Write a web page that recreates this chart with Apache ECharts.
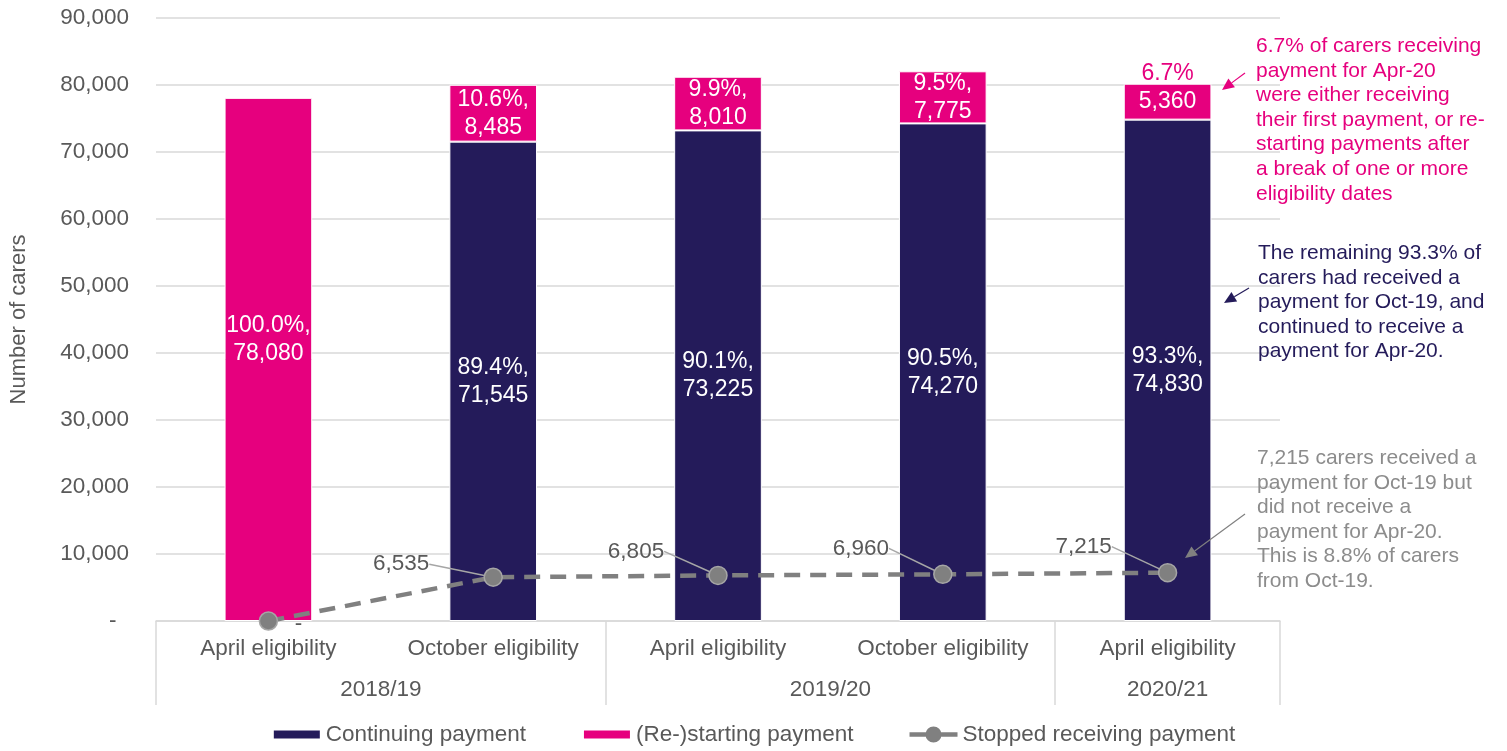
<!DOCTYPE html>
<html>
<head>
<meta charset="utf-8">
<script src="https://cdn.jsdelivr.net/npm/echarts@6/dist/echarts.min.js"></script>
<style>html,body{margin:0;padding:0;background:#fff}#c{width:1507px;height:751px}</style>
</head>
<body>
<div id="c"></div>
<script>
const categories = ['April eligibility', 'October eligibility', 'April eligibility', 'October eligibility', 'April eligibility'];
const years = ['2018/19', '2019/20', '2020/21'];
const yearSpans = [2, 2, 1];
const continuing = [null, 71545, 73225, 74270, 74830];
const continuingPct = ['', '89.4%', '90.1%', '90.5%', '93.3%'];
const restarting = [78080, 8485, 8010, 7775, 5360];
const restartingPct = ['100.0%', '10.6%', '9.9%', '9.5%', '6.7%'];
const stopped = [0, 6535, 6805, 6960, 7215];
const yTicks = ['-', '10,000', '20,000', '30,000', '40,000', '50,000', '60,000', '70,000', '80,000', '90,000'];

const NAVY = '#241b5a', PINK = '#e6007e', GREY = '#808080', TXT = '#595959';
const FONT = 'Liberation Sans, Arial, sans-serif';
const FS = 22.5;
const fmt = v => v.toLocaleString('en-US');

let pos = 0; const yearCenters = [], yearBounds = [0];
yearSpans.forEach(s => { yearCenters.push(pos + s); pos += 2 * s; yearBounds.push(pos); });

const chart = echarts.init(document.getElementById('c'));
const labelDx = [0, -92, -82, -82, -84];
const labelDy = [0, -13, -24, -26, -26];

const RECT_ICON = 'path://M0,0h.01v.01H0z M0,3h48v10H0z M47.99,15.99h.01v.01h-.01z';
const LINE_ICON = 'path://M0,5.75h48v4.5H0z M32,8a8,8 0 1,1 -16,0a8,8 0 1,1 16,0z';

const option = {
  textStyle: { fontFamily: FONT },
  animation: false,
  grid: { left: 155, right: 227, top: 18, bottom: 130 },
  xAxis: [
    {
      type: 'category', data: categories, position: 'bottom',
      axisLine: { lineStyle: { color: '#d9d9d9', width: 1.5 } },
      axisTick: { show: false },
      axisLabel: { color: TXT, fontSize: FS, margin: 16, fontFamily: FONT }
    },
    {
      type: 'value', min: 0, max: 2 * categories.length, position: 'bottom',
      axisLine: { show: false },
      splitLine: { show: false },
      axisTick: { show: true, customValues: yearBounds, length: 84, inside: false, lineStyle: { color: '#d9d9d9', width: 1.5 } },
      axisLabel: {
        customValues: yearCenters, color: TXT, fontSize: FS, margin: 57, fontFamily: FONT,
        formatter: v => years[yearCenters.indexOf(v)] || ''
      }
    }
  ],
  yAxis: {
    type: 'value', min: 0, max: 90000, interval: 10000,
    name: 'Number of carers', nameLocation: 'middle', nameGap: 126, nameRotate: 90,
    nameTextStyle: { color: TXT, fontSize: 22, fontFamily: FONT },
    axisLine: { show: false }, axisTick: { show: false },
    splitLine: { lineStyle: { color: '#d9d9d9', width: 1.5 } },
    axisLabel: { color: TXT, fontSize: FS, margin: 27, fontFamily: FONT,
      formatter: v => v === 0 ? '-  ' : yTicks[v / 10000] }
  },
  legend: {
    bottom: 0, left: 'center', itemWidth: 48, itemHeight: 16, itemGap: 56,
    textStyle: { color: TXT, fontSize: FS, fontFamily: FONT },
    data: [
      { name: 'Continuing payment', icon: RECT_ICON },
      { name: '(Re-)starting payment', icon: RECT_ICON },
      { name: 'Stopped receiving payment', icon: LINE_ICON, itemStyle: { color: GREY, borderWidth: 0 } }
    ]
  },
  series: [
    {
      name: 'Continuing payment', type: 'bar', stack: 'a', barCategoryGap: '61%',
      itemStyle: { color: NAVY, borderColor: '#fff', borderWidth: 1 },
      label: { show: true, position: 'inside', color: '#fff', fontSize: 23, lineHeight: 28, fontFamily: FONT,
        formatter: p => p.value == null ? '' : continuingPct[p.dataIndex] + ',\n' + fmt(p.value) },
      data: continuing
    },
    {
      name: '(Re-)starting payment', type: 'bar', stack: 'a',
      itemStyle: { color: PINK, borderColor: '#fff', borderWidth: 1 },
      label: { show: true, position: 'inside', color: '#fff', fontSize: 23, lineHeight: 28, fontFamily: FONT,
        rich: { p: { color: PINK, fontSize: 23, lineHeight: 28, fontFamily: FONT } },
        formatter: p => p.dataIndex === 4
          ? '{p|' + restartingPct[p.dataIndex] + '}\n' + fmt(p.value)
          : restartingPct[p.dataIndex] + ',\n' + fmt(p.value) },
      data: restarting.map((v, i) => i === 0 ? { value: v, label: { offset: [0, -20] } }
        : i === 4 ? { value: v, label: { offset: [0, -14] } } : v)
    },
    {
      name: 'Stopped receiving payment', type: 'line', z: 5,
      symbol: 'circle', symbolSize: 18,
      itemStyle: { color: GREY, borderColor: '#a6a6a6', borderWidth: 1.5 },
      lineStyle: { color: GREY, width: 4.5, type: [16, 10] },
      label: { show: true, position: 'inside', color: TXT, fontSize: FS, fontFamily: FONT,
        formatter: p => p.value === 0 ? '-' : fmt(p.value) },
      labelLayout: p => p.dataIndex === 0 ? { dx: 30, dy: 3 } : { dx: labelDx[p.dataIndex], dy: labelDy[p.dataIndex] },
      labelLine: { show: true, lineStyle: { color: '#a6a6a6', width: 1.5 } },
      data: stopped.map((v, i) => i === 0 ? { value: v, labelLine: { show: false } } : v)
    }
  ]
};
chart.setOption(option);

function arrow(x1, y1, x2, y2, color) {
  const ang = Math.atan2(y2 - y1, x2 - x1), L = 12, W = 5.5;
  const bx = x2 - L * Math.cos(ang), by = y2 - L * Math.sin(ang);
  const px = -Math.sin(ang) * W, py = Math.cos(ang) * W;
  return [
    { type: 'line', z: 100, shape: { x1, y1, x2: bx, y2: by }, style: { stroke: color, lineWidth: 1.2 } },
    { type: 'polygon', z: 100, shape: { points: [[x2, y2], [bx + px, by + py], [bx - px, by - py]] }, style: { fill: color } }
  ];
}
const note = (x, y, text, color) => ({
  type: 'text', left: x, top: y, z: 100,
  style: { text, fill: color, font: '21px ' + FONT, lineHeight: 24.6, textAlign: 'left' }
});
chart.setOption({
  graphic: [
    note(1256, 34, '6.7% of carers receiving\npayment for Apr-20\nwere either receiving\ntheir first payment, or re-\nstarting payments after\na break of one or more\neligibility dates', PINK),
    ...arrow(1245, 73, 1222, 90, PINK),
    note(1258, 241, 'The remaining 93.3% of\ncarers had received a\npayment for Oct-19, and\ncontinued to receive a\npayment for Apr-20.', NAVY),
    ...arrow(1249, 288, 1224, 303, NAVY),
    note(1257, 446, '7,215 carers received a\npayment for Oct-19 but\ndid not receive a\npayment for Apr-20.\nThis is 8.8% of carers\nfrom Oct-19.', '#8c8c8c'),
    ...arrow(1245, 514, 1185, 558, GREY)
  ]
});
</script>
</body>
</html>
